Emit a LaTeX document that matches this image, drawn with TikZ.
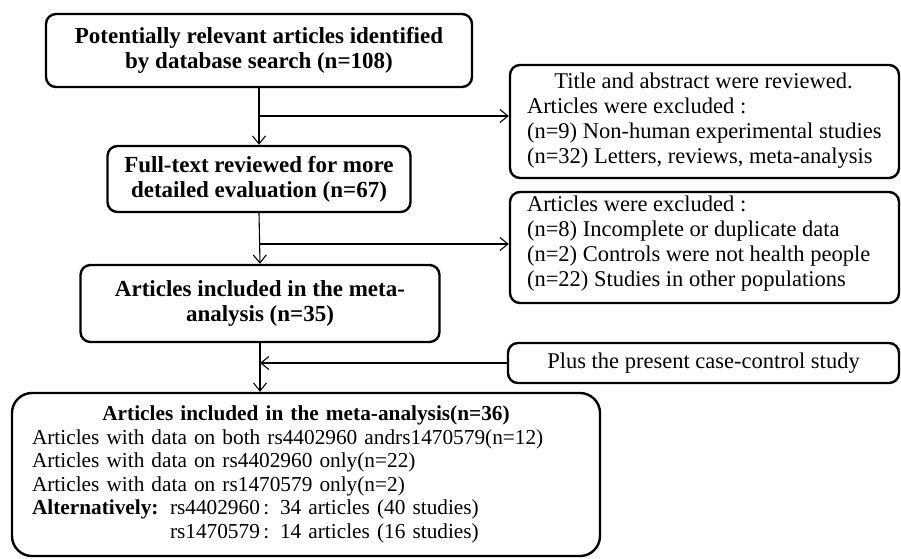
\documentclass[tikz,border=0pt]{standalone}
\usepackage{fontspec}
\setmainfont{Liberation Serif}
\usetikzlibrary{arrows.meta}
\begin{document}
\begin{tikzpicture}[x=1pt,y=-1pt,
  box/.style={draw, line width=2.4pt, rounded corners=10pt, inner sep=0pt, fill=white},
  mainbox/.style={box, align=center, font=\fontsize{23}{25}\selectfont\bfseries},
  sidetext/.style={anchor=west, inner sep=0pt, align=left, font=\fontsize{22.5}{25}\selectfont},
  conn/.style={line width=1.1pt},
  arr/.style={conn, -{Straight Barb[length=8pt,width=13pt]}}]
\useasboundingbox (0,0) rectangle (901,558);
% main boxes
\node[mainbox, minimum width=426pt, minimum height=73pt] (b1) at (259,50.5)
  {Potentially relevant articles identified\\by database search (n=108)};
\node[mainbox, minimum width=303pt, minimum height=66pt] (b2) at (259,179)
  {Full-text reviewed for more\\detailed evaluation (n=67)};
\node[mainbox, minimum width=359pt, minimum height=77pt] (b3) at (260,303.5)
  {Articles included in the meta-\\analysis (n=35)};
\node[box, rounded corners=20pt, minimum width=588pt, minimum height=163pt, text width=548pt, align=left,
  font=\fontsize{21.3}{23.5}\selectfont] (b4) at (306,474.5)
  {\makebox[548pt][c]{\bfseries Articles included in the meta-analysis(n=36)}\\
   Articles with data on both rs4402960 andrs1470579(n=12)\\
   Articles with data on rs4402960 only(n=22)\\
   Articles with data on rs1470579 only(n=2)\\
   \makebox[138pt][l]{\bfseries Alternatively:}rs4402960\,: 34 articles (40 studies)\\
   \hspace*{138pt}rs1470579\,: 14 articles (16 studies)};
% side boxes
\node[box, minimum width=389pt, minimum height=113pt] (e1) at (704.5,121.5) {};
\node[sidetext] (e1t) at ([xshift=18pt,yshift=1pt]e1.west)
  {\makebox[353pt][c]{Title and abstract were reviewed.}\\
   Articles were excluded :\\
   (n=9) Non-human experimental studies\\
   (n=32) Letters, reviews, meta-analysis};
\node[box, minimum width=389pt, minimum height=111pt] (e2) at (704.5,247.5) {};
\node[sidetext] (e2t) at ([xshift=18pt,yshift=4pt]e2.west)
  {Articles were excluded :\\
   (n=8) Incomplete or duplicate data\\
   (n=2) Controls were not health people\\
   (n=22) Studies in other populations};
\node[box, minimum width=391pt, minimum height=40pt, font=\fontsize{22.5}{25}\selectfont] (pl) at (703.5,363)
  {Plus the present case-control study};
% connectors
\coordinate (j1) at (259,116);
\coordinate (j2) at (259,244);
\draw[arr] (b1.south) -- (b2.north);
\draw[arr] (b2.south) -- (b3.north);
\draw[arr] (b3.south) -- (b3.south |- b4.north);
\draw[arr] (j1) -- (j1 -| e1.west);
\draw[arr] (j2) -- (j2 -| e2.west);
\draw[arr] (pl.west) -- (pl.west -| b3.south);
\end{tikzpicture}
\end{document}
